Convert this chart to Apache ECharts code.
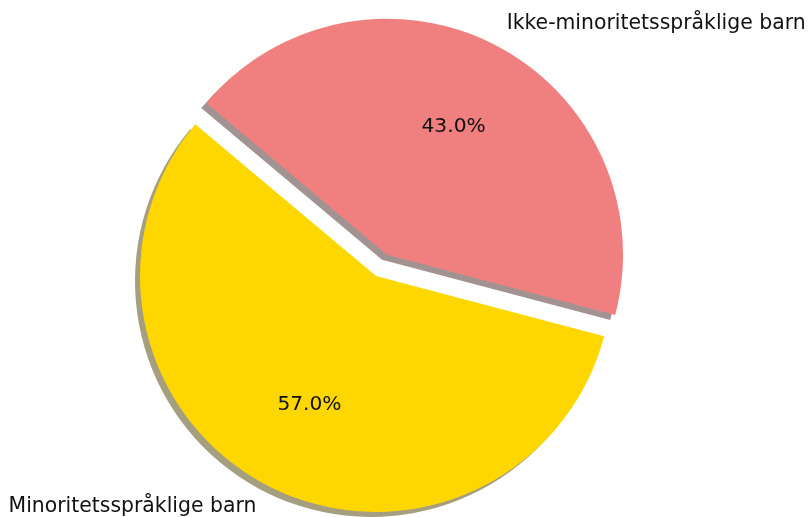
<!DOCTYPE html>
<html>
<head>
<meta charset="utf-8">
<script src="https://cdn.jsdelivr.net/npm/echarts@6/dist/echarts.min.js"></script>
<style>
html,body{margin:0;padding:0;background:#fff;}
#chart{width:812px;height:517px;}
</style>
</head>
<body>
<div id="chart"></div>
<script>
const categories = ['Minoritetsspråklige barn', 'Ikke-minoritetsspråklige barn'];
const values = [57.0, 43.0];
const explodedIndex = 1;

const colors = ['#FFD700', '#F08080'];
const shadowColors = ['rgba(76,64,0,0.5)', 'rgba(72,38,38,0.5)'];

const R = 236;
const C = [376, 276];
const OFFSET = 24;
const FONT = 'DejaVu Sans';

const chart = echarts.init(document.getElementById('chart'), null, {renderer: 'canvas'});

const mainData = categories.map((name, i) => ({
  name: name,
  value: values[i],
  selected: i === explodedIndex,
  itemStyle: {
    color: colors[i],
    shadowColor: shadowColors[i],
    shadowBlur: 0,
    shadowOffsetX: -5,
    shadowOffsetY: 5,
    borderWidth: 0
  }
}));

const pctData = categories.map((name, i) => ({
  name: name,
  value: values[i],
  selected: i === explodedIndex,
  itemStyle: { color: 'rgba(0,0,0,0)', borderWidth: 0 }
}));

chart.setOption({
  animation: false,
  backgroundColor: '#ffffff',
  series: [
    {
      type: 'pie',
      silent: true,
      center: C,
      radius: [0, R],
      startAngle: 140,
      clockwise: false,
      selectedMode: 'single',
      selectedOffset: OFFSET,
      avoidLabelOverlap: false,
      padAngle: 0,
      data: mainData,
      label: {
        show: true,
        position: 'outside',
        formatter: '{b}',
        fontFamily: FONT,
        fontSize: 20.4,
        color: '#111',
        distanceToLabelLine: 0
      },
      labelLine: { show: false, length: OFFSET, length2: 0 },
      emphasis: { disabled: true }
    },
    {
      type: 'pie',
      silent: true,
      center: C,
      radius: [0, R * 1.2],
      startAngle: 140,
      clockwise: false,
      selectedMode: 'single',
      selectedOffset: OFFSET,
      avoidLabelOverlap: false,
      data: pctData,
      label: {
        show: true,
        position: 'inside',
        formatter: p => p.value.toFixed(1) + '%',
        fontFamily: FONT,
        fontSize: 20.2,
        color: '#111'
      },
      labelLine: { show: false },
      emphasis: { disabled: true }
    }
  ]
});
</script>
</body>
</html>
